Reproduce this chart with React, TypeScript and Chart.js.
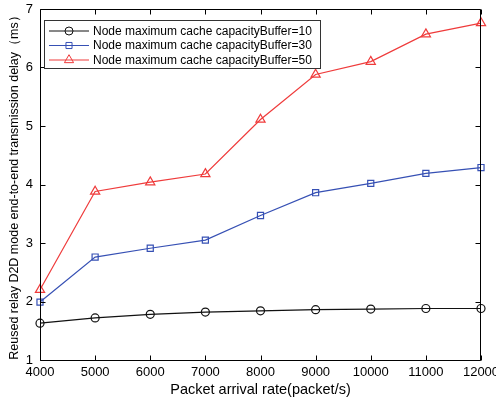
import React, { useEffect, useRef } from 'react';
import { Chart, registerables } from 'chart.js';

Chart.register(...registerables);

const packetRates = [4000, 5000, 6000, 7000, 8000, 9000, 10000, 11000, 12000];
const buffer10 = [1.63, 1.72, 1.78, 1.82, 1.84, 1.86, 1.87, 1.88, 1.88];
const buffer30 = [1.99, 2.76, 2.91, 3.05, 3.47, 3.86, 4.02, 4.19, 4.29];
const buffer50 = [2.2, 3.88, 4.04, 4.18, 5.11, 5.88, 6.1, 6.57, 6.76];
const seriesLabels = [
  'Node maximum cache capacityBuffer=10',
  'Node maximum cache capacityBuffer=30',
  'Node maximum cache capacityBuffer=50',
];
const xTitle = 'Packet arrival rate(packet/s)';
const yTitle = 'Reused relay D2D mode end-to-end transmission delay（ms）';

const FONT = "'Liberation Sans', Arial, Helvetica, sans-serif";
const COLORS = ['#111111', '#3650b4', '#ef3b3b'];
const MARKERS = ['circle', 'rect', 'triangle'];
const RADII = [4, 4.3, 5.3];

function drawMarker(ctx: CanvasRenderingContext2D, style: string, x: number, y: number, r: number) {
  ctx.beginPath();
  if (style === 'circle') {
    ctx.arc(x, y, r, 0, Math.PI * 2);
  } else if (style === 'rect') {
    const s = Math.SQRT1_2 * r;
    ctx.rect(x - s, y - s, 2 * s, 2 * s);
  } else {
    let rad = 0;
    ctx.moveTo(x + Math.sin(rad) * r, y - Math.cos(rad) * r);
    rad += (2 * Math.PI) / 3;
    ctx.lineTo(x + Math.sin(rad) * r, y - Math.cos(rad) * r);
    rad += (2 * Math.PI) / 3;
    ctx.lineTo(x + Math.sin(rad) * r, y - Math.cos(rad) * r);
    ctx.closePath();
  }
  ctx.stroke();
}

const framePlugin = {
  id: 'matlabFrame',
  afterDraw(chart: any) {
    const { ctx, chartArea: a, scales } = chart;
    const L = Math.floor(a.left) + 0.5;
    const R = Math.ceil(a.right) - 0.5;
    const T = Math.floor(a.top) + 0.5;
    const B = Math.floor(a.bottom) + 0.5;
    ctx.save();
    ctx.strokeStyle = '#000';
    ctx.lineWidth = 1;
    ctx.beginPath();
    ctx.rect(L, T, R - L, B - T);
    ctx.stroke();
    const tl = 5;
    ctx.beginPath();
    scales.x.ticks.forEach((t: any) => {
      const px = Math.round(scales.x.getPixelForValue(t.value)) + 0.5;
      ctx.moveTo(px, B);
      ctx.lineTo(px, B - tl);
      ctx.moveTo(px, T);
      ctx.lineTo(px, T + tl);
    });
    scales.y.ticks.forEach((t: any) => {
      const py = Math.round(scales.y.getPixelForValue(t.value)) + 0.5;
      ctx.moveTo(L, py);
      ctx.lineTo(L + tl, py);
      ctx.moveTo(R, py);
      ctx.lineTo(R - tl, py);
    });
    ctx.stroke();

    // legend
    const bx = 44.5, by = 20.5, bw = 276, bh = 48;
    ctx.fillStyle = '#fff';
    ctx.fillRect(bx, by, bw, bh);
    ctx.strokeStyle = '#333';
    ctx.strokeRect(bx, by, bw, bh);
    ctx.font = `12px ${FONT}`;
    ctx.textBaseline = 'middle';
    ctx.textAlign = 'left';
    chart.data.datasets.forEach((ds: any, i: number) => {
      const y = 31 + i * 14.5;
      ctx.strokeStyle = ds.borderColor;
      ctx.lineWidth = 1;
      ctx.beginPath();
      ctx.moveTo(49, y);
      ctx.lineTo(89, y);
      ctx.stroke();
      drawMarker(ctx, ds.pointStyle, 69, y, ds.pointRadius);
      ctx.fillStyle = '#000';
      ctx.fillText(ds.label, 93, y + 0.5);
    });
    ctx.restore();
  },
};

export default function App() {
  const ref = useRef<HTMLCanvasElement>(null);
  useEffect(() => {
    if (!ref.current) return;
    const series = [buffer10, buffer30, buffer50];
    const chart = new Chart(ref.current, {
      type: 'line',
      data: {
        datasets: series.map((vals, i) => ({
          label: seriesLabels[i],
          data: packetRates.map((x, j) => ({ x, y: vals[j] })),
          borderColor: COLORS[i],
          backgroundColor: 'rgba(0,0,0,0)',
          borderWidth: 1.2,
          pointStyle: MARKERS[i],
          pointRadius: RADII[i],
          pointBorderWidth: 1.2,
          pointBorderColor: COLORS[i],
          pointBackgroundColor: 'rgba(0,0,0,0)',
          tension: 0,
          fill: false,
          clip: false,
          order: 3 - i,
        })),
      } as any,
      options: {
        responsive: false,
        animation: false,
        layout: { padding: { left: 0, right: 15, top: 9, bottom: 0 } },
        plugins: { legend: { display: false }, tooltip: { enabled: false } },
        scales: {
          x: {
            type: 'linear',
            min: 4000,
            max: 12000,
            grid: { display: false, drawTicks: false },
            border: { display: false },
            ticks: {
              stepSize: 1000,
              color: '#000',
              font: { family: FONT, size: 13 },
              padding: 5,
              maxRotation: 0,
              autoSkip: false,
              callback: (v: any) => String(v),
            },
            title: {
              display: true,
              text: xTitle,
              color: '#000',
              font: { family: FONT, size: 14.5 },
              padding: { top: 3, bottom: 3 },
            },
            afterFit: (s: any) => {
              s.height = 42;
              s.paddingLeft = 0;
              s.paddingRight = 0;
            },
          },
          y: {
            type: 'linear',
            min: 1,
            max: 7,
            grid: { display: false, drawTicks: false },
            border: { display: false },
            ticks: {
              stepSize: 1,
              color: '#000',
              font: { family: FONT, size: 13 },
              padding: 7,
              callback: (v: any) => String(v),
            },
            title: {
              display: true,
              text: yTitle,
              color: '#000',
              font: { family: FONT, size: 12.5 },
              padding: { top: 7, bottom: 0 },
            },
            afterFit: (s: any) => {
              s.width = 40;
              s.paddingTop = 0;
              s.paddingBottom = 0;
            },
          },
        },
      } as any,
      plugins: [framePlugin],
    });
    return () => chart.destroy();
  }, []);
  return (
    <div style={{ position: 'absolute', left: 0, top: 0, width: 496, height: 402, background: '#fff' }}>
      <canvas ref={ref} width={496} height={402} style={{ display: 'block' }} />
    </div>
  );
}
